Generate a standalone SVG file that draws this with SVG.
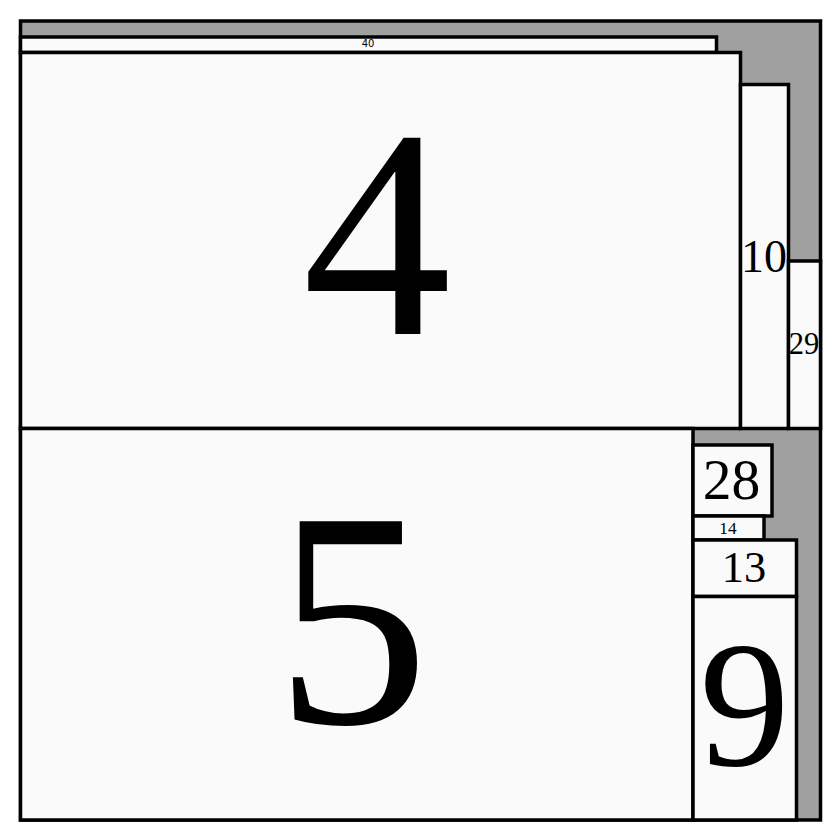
<svg xmlns="http://www.w3.org/2000/svg" width="840" height="840" viewBox="0 0 840 840">
<style>
.bg{fill:#a0a0a0;stroke:#000;stroke-width:3.5}
.n{fill:#fafafa;stroke:#000;stroke-width:3.5}
.t{font-family:"Liberation Serif","Times New Roman",serif;fill:#000;text-anchor:middle}
.s{font-family:"DejaVu Sans",sans-serif;fill:#000;text-anchor:middle}
</style>
<rect class="bg" x="20.5" y="21" width="800" height="799"/>
<g id="node-40"><rect class="n" x="20.5" y="37" width="696" height="15.5"/><text class="s" x="368" y="46.5" font-size="10">40</text></g>
<g id="node-4"><rect class="n" x="20.5" y="52.5" width="720" height="376"/><text class="t" x="377" y="334" font-size="298">4</text></g>
<g id="node-10"><rect class="n" x="740.5" y="84.5" width="48" height="344"/><text class="t" x="764" y="271.5" font-size="46">10</text></g>
<g id="node-29"><rect class="n" x="788.5" y="261" width="32" height="167.5"/><text class="t" x="804" y="354" font-size="30.5">29</text></g>
<g id="node-5"><rect class="n" x="20.5" y="428.5" width="672.5" height="391.5"/><text class="t" x="352" y="723" font-size="308">5</text></g>
<g id="node-28"><rect class="n" x="693" y="445" width="79" height="71"/><text class="t" x="731.5" y="498.5" font-size="57.5">28</text></g>
<g id="node-14"><rect class="n" x="693" y="516" width="71" height="24"/><text class="t" x="728" y="534" font-size="17.3">14</text></g>
<g id="node-13"><rect class="n" x="693" y="540" width="103.5" height="56.5"/><text class="t" x="744" y="582" font-size="44.4">13</text></g>
<g id="node-9"><rect class="n" x="693" y="596.5" width="103.5" height="223.5"/><text class="t" x="744.5" y="765" font-size="180">9</text></g>
<g id="connectors"/>
</svg>
